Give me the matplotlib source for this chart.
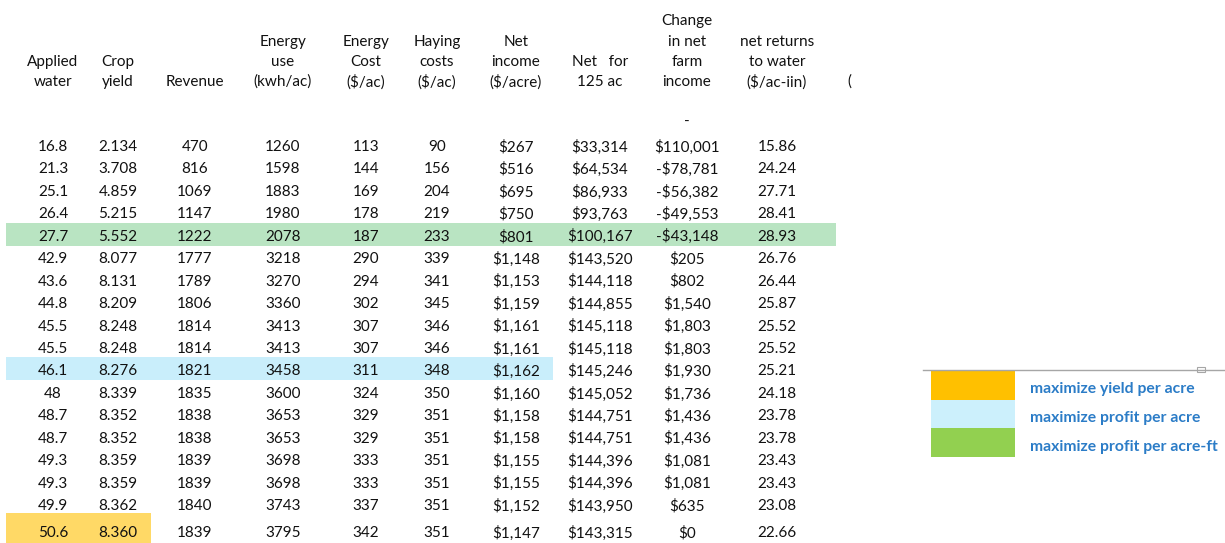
import matplotlib
matplotlib.use("Agg")
import matplotlib.pyplot as plt
from matplotlib.patches import Rectangle

plt.rcParams["font.family"] = ["Lato", "DejaVu Sans"]

# 表头与数据
headers = [
    ["Applied", "water"],
    ["Crop", "yield"],
    ["Revenue"],
    ["Energy", "use", "(kwh/ac)"],
    ["Energy", "Cost", "($/ac)"],
    ["Haying", "costs", "($/ac)"],
    ["Net", "income", "($/acre)"],
    ["Net   for", "125 ac"],
    ["Change", "in net", "farm", "income"],
    ["net returns", "to water", "($/ac-iin)"],
]
applied_water = [16.8, 21.3, 25.1, 26.4, 27.7, 42.9, 43.6, 44.8, 45.5, 45.5, 46.1, 48, 48.7, 48.7, 49.3, 49.3, 49.9, 50.6]
crop_yield = [2.134, 3.708, 4.859, 5.215, 5.552, 8.077, 8.131, 8.209, 8.248, 8.248, 8.276, 8.339, 8.352, 8.352, 8.359, 8.359, 8.362, 8.360]
revenue = [470, 816, 1069, 1147, 1222, 1777, 1789, 1806, 1814, 1814, 1821, 1835, 1838, 1838, 1839, 1839, 1840, 1839]
energy_use = [1260, 1598, 1883, 1980, 2078, 3218, 3270, 3360, 3413, 3413, 3458, 3600, 3653, 3653, 3698, 3698, 3743, 3795]
energy_cost = [113, 144, 169, 178, 187, 290, 294, 302, 307, 307, 311, 324, 329, 329, 333, 333, 337, 342]
haying_cost = [90, 156, 204, 219, 233, 339, 341, 345, 346, 346, 348, 350, 351, 351, 351, 351, 351, 351]
net_income = [267, 516, 695, 750, 801, 1148, 1153, 1159, 1161, 1161, 1162, 1160, 1158, 1158, 1155, 1155, 1152, 1147]
net_125ac = [33314, 64534, 86933, 93763, 100167, 143520, 144118, 144855, 145118, 145118, 145246, 145052,
             144751, 144751, 144396, 144396, 143950, 143315]
change_income = [-110001, -78781, -56382, -49553, -43148, 205, 802, 1540, 1803, 1803, 1930, 1736,
                 1436, 1436, 1081, 1081, 635, 0]
returns_water = [15.86, 24.24, 27.71, 28.41, 28.93, 26.76, 26.44, 25.87, 25.52, 25.52, 25.21, 24.18,
                 23.78, 23.78, 23.43, 23.43, 23.08, 22.66]

legend_labels = ["maximize yield per acre", "maximize profit per acre", "maximize profit per acre-ft"]
legend_colors = ["#ffc000", "#ccf0fc", "#92d050"]


def money(v):
    s = f"${abs(v):,.0f}"
    return "-" + s if v < 0 else s


# 布局（像素坐标）
col_x = [53, 118, 195, 283, 366, 437, 516, 600, 687, 777]
row_y0 = 145
row_h = 22.44
fs = 11
dy = 2  # 文字垂直微调

fig = plt.figure(figsize=(12.25, 5.43), dpi=100)
ax = fig.add_axes([0, 0, 1, 1])
ax.set_xlim(0, 1225)
ax.set_ylim(543, 0)
ax.axis("off")

n = len(applied_water)
row_ys = [row_y0 + i * row_h for i in range(n)]
row_ys[-1] += 5

# 高亮行
ax.add_patch(Rectangle((6, row_ys[4] - 11.5), 830, 22.5, color="#b9e4c2", lw=0))
ax.add_patch(Rectangle((6, row_ys[10] - 12.5), 547, 23, color="#c9eefb", lw=0))
ax.add_patch(Rectangle((6, row_ys[-1] - 18), 145, 30, color="#ffd966", lw=0))

# 表头（底部对齐）
line_ys = [19, 40, 60, 80]
for x, h in zip(col_x, headers):
    for j, t in enumerate(h):
        ax.text(x, line_ys[4 - len(h) + j] + dy, t, ha="center", va="center", fontsize=fs, color="#111111")
ax.text(849, 80 + dy, "(", ha="center", va="center", fontsize=fs, color="#111111")

for i in range(n):
    y = row_ys[i] + dy
    ch = change_income[i]
    if i == 0:
        ax.text(col_x[8], y - 25, "-", ha="center", va="center", fontsize=fs, color="#111111")
        ch_txt = money(-ch)
    else:
        ch_txt = money(ch)
    vals = [f"{applied_water[i]:g}", f"{crop_yield[i]:.3f}", str(revenue[i]), str(energy_use[i]),
            str(energy_cost[i]), str(haying_cost[i]), money(net_income[i]), money(net_125ac[i]),
            ch_txt, f"{returns_water[i]:.2f}"]
    for x, t in zip(col_x, vals):
        ax.text(x, y, t, ha="center", va="center", fontsize=fs, color="#111111")

# 图例
ax.plot([923, 1225], [370, 370], color="#a6a6a6", lw=1)
ax.add_patch(Rectangle((1197, 367), 8, 5, facecolor="white", edgecolor="#a6a6a6", lw=0.8))
for k, (lab, c) in enumerate(zip(legend_labels, legend_colors)):
    y_top = 371 + k * 28.7
    ax.add_patch(Rectangle((931, y_top), 84, 28.7, color=c, lw=0))
    ax.text(1030, y_top + 18.5, lab, ha="left", va="center", fontsize=11.3,
            fontweight="bold", color="#2b7cc7")

fig.savefig("out.png", dpi=100)
